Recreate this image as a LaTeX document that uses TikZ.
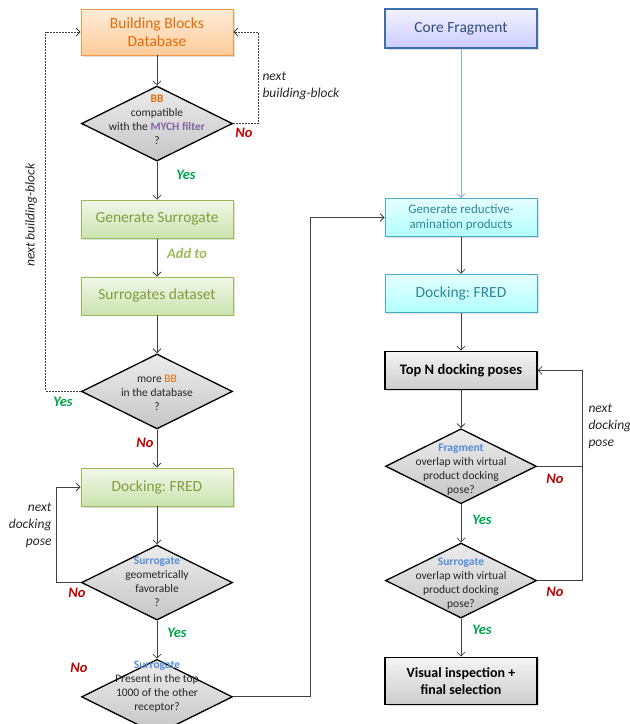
\documentclass[tikz,border=0pt]{standalone}
\usepackage{fontspec}
\setmainfont{Carlito}
\usepackage{xcolor}
\usetikzlibrary{shapes.geometric, arrows.meta, positioning, shadows}
\frenchspacing

\definecolor{bbtext}{HTML}{E46C0A}
\definecolor{bbdraw}{HTML}{F79646}
\definecolor{grtext}{HTML}{7F9E3E}
\definecolor{grdraw}{HTML}{9BBB59}
\definecolor{cfdraw}{HTML}{3F6FAA}
\definecolor{cftext}{HTML}{2E4D7B}
\definecolor{cytext}{HTML}{31859C}
\definecolor{cydraw}{HTML}{4BACC6}
\definecolor{sgblue}{HTML}{558ED5}
\definecolor{mych}{HTML}{8064A2}
\definecolor{yescol}{HTML}{00A550}
\definecolor{nocol}{HTML}{C00000}
\definecolor{darkline}{HTML}{404040}

\begin{document}
\begin{tikzpicture}[
        x=1pt, y=-1pt,
        node distance=38pt,
        box/.style={
            rectangle,
            minimum width=152pt,
            minimum height=38pt,
            align=center,
            line width=0.8pt,
            drop shadow={opacity=0.25, shadow xshift=1.5pt, shadow yshift=-1.5pt},
            font=\fontsize{15.5}{18}\selectfont
        },
        dbbox/.style={box, draw=bbdraw, top color=orange!15, bottom color=orange!40, text=bbtext, minimum height=46pt},
        surrbox/.style={box, draw=grdraw, top color=green!30!olive!8, bottom color=green!30!olive!32, text=grtext},
        corebox/.style={box, draw=cfdraw, line width=1.4pt, top color=blue!5, bottom color=blue!20, text=cftext, minimum height=39pt},
        prodbox/.style={box, draw=cydraw, top color=cyan!10, bottom color=cyan!30, text=cytext},
        posebox/.style={box, draw=black, line width=1.4pt, top color=gray!8, bottom color=gray!40, font=\fontsize{14.5}{17}\selectfont\bfseries},
        decision/.style={
            diamond,
            draw=black,
            line width=1.3pt,
            top color=gray!15,
            bottom color=gray!45,
            minimum width=151pt,
            minimum height=75pt
        },
        decisiontext/.style={align=center, text=black!85, font=\fontsize{11.5}{14}\selectfont},
        yeslabel/.style={text=yescol, font=\fontsize{14.5}{16}\selectfont\bfseries\itshape},
        nolabel/.style={text=nocol, font=\fontsize{14.5}{16}\selectfont\bfseries\itshape},
        looplabel/.style={text=black!85, font=\fontsize{13.5}{17}\selectfont\itshape},
        line/.style={draw=darkline, line width=0.8pt, -{Straight Barb[length=4pt, width=8pt]}},
        loopline/.style={line, dash pattern=on 2pt off 1pt}
    ]
    \useasboundingbox (0,0) rectangle (630,724);

    % left column
    \node (bbdb)   [dbbox] at (157,32) {Building Blocks\\Database};
    \node (mych)   [decision, below=30pt of bbdb] {};
    \node (gensur) [surrbox, below=of mych] {Generate Surrogate};
    \node (surdat) [surrbox, below=of gensur] {Surrogates dataset};
    \node (morebb) [decision, below=of surdat] {};
    \node (dockl)  [surrbox, below=of morebb] {Docking: FRED};
    \node (geom)   [decision, below=of dockl] {};
    \node (top1k)  [decision, below=of geom] {};

    \node (mycht)   [decisiontext] at ([yshift=4pt]mych) {\textcolor{bbtext}{\bfseries BB}\\compatible\\with the \textcolor{mych}{\bfseries MYCH filter}\\?};
    \node (morebbt) [decisiontext] at ([yshift=-1pt]morebb) {more \textcolor{bbtext}{BB}\\in the database\\?};
    \node (geomt)   [decisiontext] at ([yshift=0.5pt]geom) {\textcolor{sgblue}{\bfseries Surrogate}\\geometrically\\favorable\\?};
    \node (top1kt)  [decisiontext] at ([yshift=10pt]top1k) {\textcolor{sgblue}{\bfseries Surrogate}\\Present in the top\\1000 of the other\\receptor?};

    % right column
    \node (core)   [corebox] at (461,28.5) {Core Fragment};
    \node (genred) [prodbox, font=\fontsize{13}{15.5}\selectfont] at (461,217.5) {Generate reductive-\\amination products};
    \node (dockr)  [prodbox, below=37pt of genred] {Docking: FRED};
    \node (topn)   [posebox, below=of dockr] {Top N docking poses};
    \node (fragov) [decision, below=of topn] {};
    \node (surov)  [decision, below=of fragov] {};
    \node (visual) [posebox, below=of surov, minimum height=47pt, font=\fontsize{14}{17}\selectfont\bfseries] {Visual inspection +\\final selection};

    \node (fragovt) [decisiontext] at ([yshift=-3pt]fragov) {\textcolor{sgblue}{\bfseries Fragment}\\overlap with virtual\\product docking\\pose?};
    \node (surovt)  [decisiontext] at ([yshift=-3pt]surov) {\textcolor{sgblue}{\bfseries Surrogate}\\overlap with virtual\\product docking\\pose?};

    % main flow
    \draw [line] (bbdb) -- (mych);
    \draw [line] (mych) -- (gensur);
    \draw [line] (gensur) -- (surdat);
    \draw [line] (surdat) -- (morebb);
    \draw [line] (morebb) -- (dockl);
    \draw [line] (dockl) -- (geom);
    \draw [line] (geom) -- (top1k);
    \draw [line, draw=sgblue!70] (core) -- (genred);
    \draw [line] (genred) -- (dockr);
    \draw [line] (dockr) -- (topn);
    \draw [line] (topn) -- (fragov);
    \draw [line] (fragov) -- (surov);
    \draw [line] (surov) -- (visual);

    % loops
    \draw [loopline] (mych.east) -- ++(25,0) |- (bbdb.east);
    \draw [loopline] (morebb.west) -- ++(-35,0) |- (bbdb.west);
    \draw [line] (geom.west) -- ++(-24,0) |- (dockl.west);
    \draw [line] (top1k.east) -- ++(77,0) |- (genred.west);
    \draw [line] (fragov.east) -- ++(45,0) |- (topn.east);
    \draw [line, -] (surov.east) -| ([xshift=45pt]fragov.east);

    % labels
    \node [looplabel, anchor=west, align=left] at (259,86) {next\\building-block};
    \node [looplabel, rotate=90] at (31,215) {next building-block};
    \node [looplabel, align=right, anchor=east] at (55,525) {next\\docking\\pose};
    \node [looplabel, align=left, anchor=west] at (585,426) {next\\docking\\pose};

    \node [nolabel]  at (244,133) {No};
    \node [yeslabel] at (186,175) {Yes};
    \node [yeslabel, text=grdraw] at (187,253) {Add to};
    \node [yeslabel] at (63,402) {Yes};
    \node [nolabel]  at (145,443) {No};
    \node [nolabel]  at (77,593) {No};
    \node [yeslabel] at (177,633) {Yes};
    \node [nolabel]  at (79,668) {No};
    \node [nolabel]  at (555,479) {No};
    \node [yeslabel] at (482,520) {Yes};
    \node [nolabel]  at (555,592) {No};
    \node [yeslabel] at (482,630) {Yes};

\end{tikzpicture}
\end{document}
